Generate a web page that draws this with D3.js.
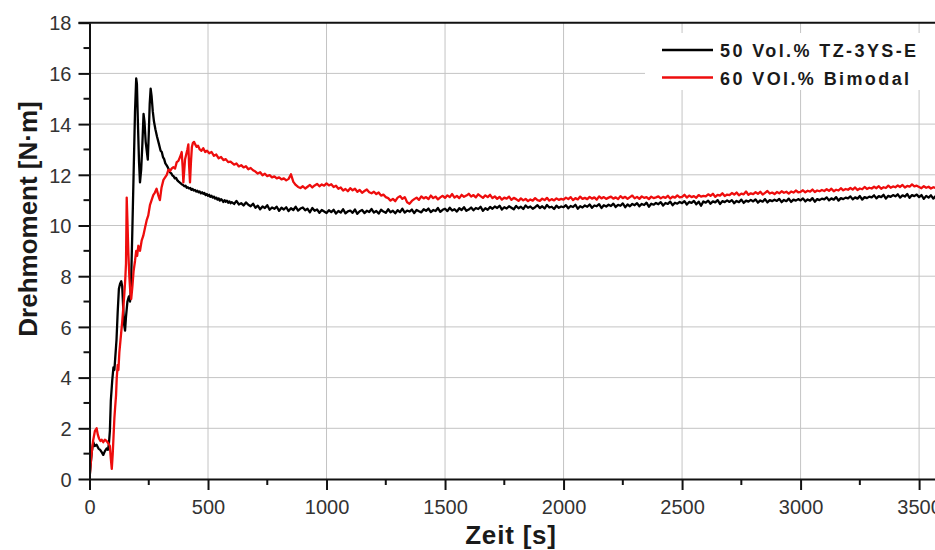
<!DOCTYPE html>
<html>
<head>
<meta charset="utf-8">
<script src="https://cdn.jsdelivr.net/npm/d3@7"></script>
<style>
  html, body { margin: 0; padding: 0; background: #fff; }
  svg { display: block; }
</style>
</head>
<body>
<svg id="chart" width="935" height="550"></svg>
<script>
// ---------------- DATA ----------------
const seriesNames = ["50 Vol.% TZ-3YS-E", "60 VOl.% Bimodal"];
const xTickValues = [0, 500, 1000, 1500, 2000, 2500, 3000, 3500];
const yTickValues = [0, 2, 4, 6, 8, 10, 12, 14, 16, 18];
const xTitle = "Zeit [s]";
const yTitle = "Drehmoment [N·m]";

// early phase (0 - 595 s): [time s, torque N·m]
const blackEarly = [[0,0],[5,0.6],[10,1.1],[16,1.45],[22,1.3],[30,1.35],[38,1.2],[45,1.15],[52,1.05],[58,0.95],[65,1.1],[72,1.2],[78,1.15],[82,1.4],[86,1.9],[90,3.1],[96,3.9],[101,4.4],[105,4.3],[108,4.7],[114,5.5],[119,6.6],[124,7.5],[129,7.7],[134,7.8],[138,7.6],[142,6.8],[146,6.1],[150,5.85],[154,6.4],[160,7.0],[166,7.2],[171,7.0],[175,7.6],[180,9.5],[186,12.0],[192,14.5],[197,15.8],[200,15.6],[205,13.8],[209,12.5],[213,11.7],[218,12.2],[223,13.2],[228,14.4],[232,14.1],[237,13.3],[242,12.9],[246,12.6],[250,13.6],[254,14.8],[258,15.4],[262,15.1],[267,14.5],[272,14.1],[278,13.8],[285,13.5],[292,13.25],[300,12.95],[305,12.9],[310,12.7],[315,12.62],[320,12.45],[325,12.38],[330,12.3],[335,12.2],[340,12.1],[345,12.06],[350,11.97],[355,11.94],[360,11.86],[365,11.88],[370,11.79],[375,11.74],[380,11.7],[385,11.66],[390,11.62],[395,11.6],[400,11.55],[405,11.57],[410,11.49],[415,11.51],[420,11.46],[425,11.48],[430,11.41],[435,11.44],[440,11.38],[445,11.4],[450,11.34],[455,11.37],[460,11.31],[465,11.34],[470,11.27],[475,11.31],[480,11.25],[485,11.28],[490,11.2],[495,11.24],[500,11.17],[505,11.21],[510,11.13],[515,11.17],[520,11.1],[525,11.14],[530,11.06],[535,11.1],[540,11.02],[545,11.07],[550,10.98],[555,11.04],[560,10.99],[565,10.93],[570,11.0],[575,10.94],[580,10.98],[585,10.9],[590,10.95],[595,10.88]];

const redEarly = [[0,0],[4,0.5],[9,1.0],[15,1.5],[23,1.9],[30,2.0],[35,1.75],[40,1.6],[46,1.5],[51,1.55],[58,1.45],[65,1.55],[72,1.5],[80,1.4],[86,1.3],[90,0.8],[94,0.4],[98,1.0],[101,1.6],[105,2.4],[108,2.8],[112,3.3],[115,4.0],[119,4.5],[122,4.3],[126,5.0],[130,5.4],[134,5.8],[138,6.2],[143,6.8],[147,7.3],[151,7.9],[154,8.5],[157,11.1],[160,10.2],[164,8.9],[168,8.0],[172,7.4],[176,7.1],[181,7.6],[186,8.2],[192,8.6],[197,9.0],[201,8.8],[206,9.2],[213,9.0],[220,9.4],[227,9.6],[234,9.9],[241,10.2],[248,10.4],[255,10.8],[262,11.0],[269,11.2],[276,11.3],[283,11.45],[290,11.2],[297,11.0],[304,11.5],[312,11.8],[319,11.9],[326,12.0],[333,12.2],[340,12.15],[347,12.25],[354,12.3],[361,12.25],[368,12.5],[375,12.55],[382,12.7],[389,12.9],[393,12.3],[396,11.7],[400,12.2],[403,12.6],[408,12.8],[413,13.0],[417,13.2],[420,12.4],[424,11.7],[428,12.5],[432,13.1],[436,13.25],[441,13.3],[446,13.2],[452,13.1],[458,13.15],[465,13.0],[472,12.95],[480,13.05],[488,12.9],[496,12.95],[505,12.85],[515,12.9],[525,12.75],[535,12.8],[545,12.65],[555,12.7],[565,12.58],[575,12.62],[585,12.5],[595,12.52]];

// later phase: one reading every lateStep seconds from lateStart s
const lateStart = 600;
const lateStep = 10;
const blackLate = [
10.92,10.85,10.97,10.83,10.88,10.79,10.91,10.82,10.76,10.86,
10.70,10.78,10.64,10.75,10.69,10.80,10.62,10.71,10.66,10.74,
10.58,10.70,10.63,10.72,10.57,10.68,10.61,10.74,10.59,10.67,
10.71,10.60,10.66,10.52,10.69,10.58,10.63,10.50,10.61,10.55,
10.49,10.60,10.53,10.62,10.47,10.57,10.51,10.64,10.48,10.56,
10.59,10.50,10.63,10.46,10.56,10.61,10.49,10.58,10.53,10.65,
10.51,10.57,10.47,10.62,10.55,10.50,10.64,10.52,10.58,10.48,
10.60,10.53,10.66,10.51,10.59,10.55,10.63,10.49,10.61,10.56,
10.52,10.64,10.58,10.67,10.53,10.61,10.57,10.69,10.54,10.62,
10.66,10.57,10.70,10.59,10.64,10.55,10.68,10.61,10.72,10.58,
10.63,10.71,10.60,10.69,10.65,10.74,10.58,10.68,10.62,10.73,
10.66,10.75,10.69,10.78,10.63,10.72,10.67,10.76,10.70,10.64,
10.77,10.68,10.74,10.65,10.79,10.70,10.75,10.66,10.72,10.80,
10.69,10.76,10.67,10.81,10.71,10.74,10.65,10.78,10.70,10.75,
10.72,10.80,10.68,10.77,10.73,10.82,10.66,10.76,10.71,10.79,
10.74,10.83,10.70,10.79,10.76,10.84,10.69,10.80,10.75,10.82,
10.77,10.86,10.73,10.81,10.78,10.87,10.72,10.83,10.76,10.85,
10.80,10.88,10.76,10.85,10.81,10.90,10.74,10.86,10.82,10.89,
10.84,10.92,10.79,10.89,10.85,10.94,10.80,10.90,10.86,10.93,
10.88,10.96,10.83,10.93,10.89,10.97,10.84,10.94,10.78,10.95,
10.90,10.98,10.86,10.95,10.91,11.00,10.85,10.96,10.92,10.99,
10.93,11.00,10.88,10.97,10.92,11.02,10.89,10.98,10.94,11.01,
10.95,11.03,10.90,10.99,10.94,11.04,10.91,11.00,10.96,11.02,
10.97,11.05,10.92,11.01,10.96,11.06,10.93,11.02,10.98,11.04,
10.99,11.07,10.95,11.03,10.98,11.08,10.94,11.04,11.00,11.06,
11.03,11.11,10.99,11.07,11.02,11.12,10.98,11.08,11.04,11.10,
11.07,11.15,11.03,11.11,11.06,11.16,11.02,11.12,11.08,11.14,
11.11,11.19,11.07,11.16,11.12,11.21,11.06,11.17,11.13,11.20,
11.15,11.23,11.10,11.19,11.14,11.24,11.09,11.20,11.16,11.22,
11.12,11.20,11.05,11.17,11.10,11.19,11.06,11.16,11.11];
const redLate = [
12.48,12.40,12.45,12.33,12.38,12.29,12.34,12.22,12.27,12.18,
12.13,12.05,12.10,11.98,12.04,11.95,11.99,11.90,11.94,11.86,
11.90,11.82,11.86,11.78,11.84,12.02,11.72,11.60,11.52,11.48,
11.55,11.46,11.53,11.60,11.50,11.58,11.64,11.55,11.62,11.57,
11.66,11.58,11.63,11.52,11.57,11.45,11.50,11.38,11.44,11.35,
11.47,11.39,11.45,11.33,11.40,11.29,11.36,11.42,11.31,11.27,
11.33,11.24,11.30,11.18,11.22,11.12,11.08,10.98,11.05,10.96,
11.10,11.16,11.05,11.12,10.92,10.86,10.97,11.04,11.10,11.01,
11.15,11.07,11.12,11.04,11.18,11.08,11.14,11.03,11.11,11.17,
11.09,11.19,11.12,11.24,11.10,11.17,11.08,11.21,11.13,11.18,
11.25,11.14,11.20,11.11,11.23,11.16,11.09,11.19,11.12,11.21,
11.08,11.15,11.05,11.13,11.02,11.10,11.06,11.14,11.01,11.09,
11.04,10.97,11.07,10.99,11.05,10.96,11.03,10.98,11.08,11.00,
10.97,11.06,11.00,11.09,10.98,11.04,10.99,11.07,11.01,11.05,
11.02,11.10,11.04,11.12,11.00,11.08,11.03,11.14,11.05,11.09,
11.04,11.13,11.06,11.11,11.02,11.15,11.07,11.12,11.05,11.10,
11.14,11.06,11.11,11.04,11.16,11.08,11.13,11.05,11.12,11.18,
11.07,11.13,11.05,11.15,11.09,11.12,11.04,11.14,11.08,11.11,
11.15,11.07,11.13,11.09,11.17,11.06,11.14,11.10,11.19,11.11,
11.13,11.21,11.10,11.18,11.12,11.16,11.09,11.20,11.14,11.17,
11.15,11.23,11.17,11.25,11.13,11.21,11.18,11.27,11.16,11.22,
11.20,11.28,11.22,11.30,11.19,11.26,11.23,11.34,11.21,11.27,
11.24,11.31,11.25,11.33,11.22,11.29,11.36,11.26,11.30,11.24,
11.32,11.27,11.35,11.29,11.33,11.26,11.34,11.30,11.38,11.31,
11.33,11.39,11.31,11.37,11.34,11.42,11.32,11.38,11.35,11.40,
11.36,11.43,11.37,11.45,11.35,11.41,11.38,11.47,11.39,11.44,
11.41,11.48,11.42,11.50,11.40,11.46,11.43,11.52,11.44,11.49,
11.46,11.53,11.47,11.55,11.45,11.51,11.48,11.57,11.49,11.54,
11.51,11.58,11.52,11.60,11.50,11.56,11.53,11.62,11.54,11.57,
11.52,11.47,11.55,11.49,11.53,11.46,11.51,11.48,11.52];

// ---------------- CHART ----------------
const svg = d3.select("#chart");
const W = 935, H = 550;
const x = d3.scaleLinear().domain([0, 3600]).range([89.5, 942.8]);
const y = d3.scaleLinear().domain([0, 18]).range([479, 22.7]);
const pLeft = x(0), pRight = W, pTop = y(18), pBottom = y(0);

const toPts = (early, late) => early.concat(late.map((v, i) => [lateStart + i * lateStep, v]));
const blackPts = toPts(blackEarly, blackLate);
const redPts = toPts(redEarly, redLate);

// grid
const grid = svg.append("g");
grid.selectAll("line.gx").data(xTickValues.filter(d => d > 0)).join("line")
  .attr("x1", d => x(d)).attr("x2", d => x(d)).attr("y1", pTop).attr("y2", pBottom)
  .attr("stroke", "#c4c4c4").attr("stroke-width", 1);
grid.selectAll("line.gy").data(yTickValues.filter(d => d > 0 && d < 18)).join("line")
  .attr("x1", pLeft).attr("x2", pRight).attr("y1", d => y(d)).attr("y2", d => y(d))
  .attr("stroke", "#c4c4c4").attr("stroke-width", 1);

// legend background
svg.append("rect").attr("x", 645).attr("y", 33).attr("width", 300).attr("height", 57).attr("fill", "#fff");

// clip
svg.append("clipPath").attr("id", "clip").append("rect")
  .attr("x", pLeft).attr("y", pTop).attr("width", pRight - pLeft).attr("height", pBottom - pTop);

const line = d3.line().x(d => x(d[0])).y(d => y(d[1]));
const plot = svg.append("g").attr("clip-path", "url(#clip)");
plot.append("path").datum(blackPts).attr("d", line).attr("fill", "none")
  .attr("stroke", "#000").attr("stroke-width", 2.3).attr("stroke-linejoin", "round");
plot.append("path").datum(redPts).attr("d", line).attr("fill", "none")
  .attr("stroke", "#ee0d0d").attr("stroke-width", 2.3).attr("stroke-linejoin", "round");

// axes
const tickFont = "'Liberation Sans', Arial, sans-serif";
const xAxis = svg.append("g").attr("transform", `translate(0,${pBottom})`)
  .call(d3.axisBottom(x).tickValues(xTickValues).tickSize(11).tickSizeOuter(0).tickFormat(d3.format("d")));
const yAxis = svg.append("g").attr("transform", `translate(${pLeft},0)`)
  .call(d3.axisLeft(y).tickValues(yTickValues).tickSize(11).tickSizeOuter(0).tickFormat(d3.format("d")));
[xAxis, yAxis].forEach(a => {
  a.select(".domain").attr("stroke", "#111").attr("stroke-width", 2);
  a.selectAll(".tick line").attr("stroke", "#111").attr("stroke-width", 2);
  a.selectAll(".tick text").attr("fill", "#333").style("font-family", tickFont).style("font-size", "20px");
});
xAxis.selectAll(".tick text").attr("dy", "0").attr("y", 35);
yAxis.selectAll(".tick text").attr("x", -18).attr("dy", "0.36em");

// minor ticks
svg.append("g").selectAll("line").data(d3.range(250, 3600, 500)).join("line")
  .attr("x1", d => x(d)).attr("x2", d => x(d)).attr("y1", pBottom).attr("y2", pBottom + 6)
  .attr("stroke", "#111").attr("stroke-width", 2);
svg.append("g").selectAll("line").data(d3.range(1, 18, 2)).join("line")
  .attr("x1", pLeft - 6).attr("x2", pLeft).attr("y1", d => y(d)).attr("y2", d => y(d))
  .attr("stroke", "#111").attr("stroke-width", 2);

// top frame
svg.append("line").attr("x1", pLeft - 11).attr("x2", pRight).attr("y1", pTop).attr("y2", pTop)
  .attr("stroke", "#111").attr("stroke-width", 2);

// titles
svg.append("text").text(xTitle).attr("x", 511).attr("y", 544)
  .attr("text-anchor", "middle").attr("fill", "#1a1a1a")
  .style("font-family", tickFont).style("font-weight", "bold").style("font-size", "26px")
  .style("letter-spacing", "0.8px");
svg.append("text").text(yTitle).attr("transform", "translate(37,219) rotate(-90)")
  .attr("text-anchor", "middle").attr("fill", "#1a1a1a")
  .style("font-family", tickFont).style("font-weight", "bold").style("font-size", "26px");

// legend
const legColors = ["#000", "#ee0d0d"];
const leg = svg.append("g");
seriesNames.forEach((name, i) => {
  const ly = 50 + i * 27.5;
  leg.append("line").attr("x1", 662).attr("x2", 713).attr("y1", ly).attr("y2", ly)
    .attr("stroke", legColors[i]).attr("stroke-width", 2.4);
  leg.append("text").text(name).attr("x", 720).attr("y", ly + 7)
    .attr("fill", "#1a1a1a").style("font-family", tickFont).style("font-weight", "bold")
    .style("font-size", "18px").style("letter-spacing", "2.4px");
});
</script>
</body>
</html>
